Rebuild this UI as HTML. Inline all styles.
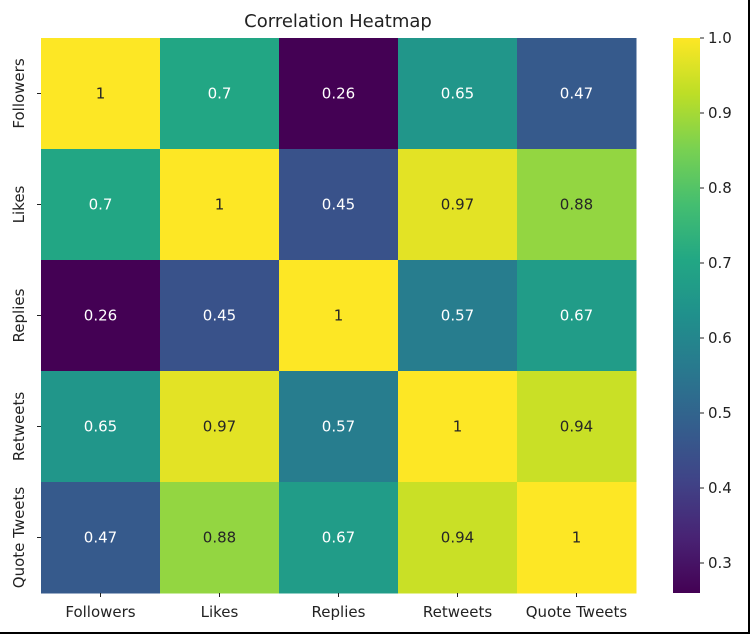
<!DOCTYPE html>
<html><head><meta charset="utf-8"><style>
body{margin:0;background:#fff;}
svg{display:block;font-family:"DejaVu Sans","Liberation Sans",sans-serif;}
</style></head><body>
<svg id="chart" width="751" height="635">
<rect x="0" y="0" width="751" height="635" fill="#fff"/>
<line x1="749" y1="0" x2="749" y2="634" stroke="#000" stroke-width="2"/>
<line x1="0" y1="633" x2="750" y2="633" stroke="#000" stroke-width="2"/>
<text x="338" y="27" text-anchor="middle" font-size="18" fill="#222">Correlation Heatmap</text>
<g id="cells"></g>
<g id="cbar"></g>
</svg>
<script>
const labels = ["Followers","Likes","Replies","Retweets","Quote Tweets"];
const row0 = [1,0.7,0.26,0.65,0.47];
const row1 = [0.7,1,0.45,0.97,0.88];
const row2 = [0.26,0.45,1,0.57,0.67];
const row3 = [0.65,0.97,0.57,1,0.94];
const row4 = [0.47,0.88,0.67,0.94,1];
const cbTicks = [0.3,0.4,0.5,0.6,0.7,0.8,0.9,1.0];
const vmin = 0.26, vmax = 1.0;
const rows = [row0,row1,row2,row3,row4];
const X0=41, Y0=38, W=595, H=555;
const cw=W/labels.length, ch=H/labels.length;
const vir=[[68,1,84],[72,35,116],[64,67,135],[52,94,141],[41,120,142],[32,144,140],[34,167,132],[68,190,112],[121,209,81],[189,222,38],[253,231,37]];
function color(v){let t=Math.max(0,Math.min(1,(v-vmin)/(vmax-vmin)))*(vir.length-1);let i=Math.min(Math.floor(t),vir.length-2),f=t-i;
const c=vir[i].map((a,k)=>Math.round(a+(vir[i+1][k]-a)*f));return `rgb(${c[0]},${c[1]},${c[2]})`;}
const NS="http://www.w3.org/2000/svg";
function mk(tag,attrs,parent){const e=document.createElementNS(NS,tag);for(const k in attrs)e.setAttribute(k,attrs[k]);parent.appendChild(e);return e;}
const g=document.getElementById('cells');
rows.forEach((r,i)=>{r.forEach((v,j)=>{
 const rc=mk('rect',{x:X0+j*cw,y:Y0+i*ch,width:cw+0.5,height:ch+0.5,fill:color(v)},g);
 
 
 const t=mk('text',{x:X0+(j+0.5)*cw,y:Y0+(i+0.5)*ch+5,'text-anchor':'middle','font-size':'15',fill:v>=0.85?'#262626':'#fff'},g);
 t.textContent=String(v);
 
 
});});
labels.forEach((l,i)=>{
 const cx=X0+(i+0.5)*cw, cy=Y0+(i+0.5)*ch;
 const tx=mk('line',{x1:cx,y1:Y0+H,x2:cx,y2:Y0+H+4,stroke:'#222'},g);
 
 
 const xl=mk('text',{x:cx,y:Y0+H+24,'text-anchor':'middle','font-size':'15',fill:'#222'},g);
 xl.textContent=l;
 
 
 const ty=mk('line',{x1:X0-4,y1:cy,x2:X0,y2:cy,stroke:'#222'},g);
 
 
 const yl=mk('text',{x:0,y:0,'text-anchor':'middle','font-size':'15',fill:'#222',transform:`translate(${X0-17},${cy}) rotate(-90)`},g);
 yl.textContent=l;
 
 
});
const cb=document.getElementById('cbar');
const CBX=673, CBW=27;
const grad=mk('linearGradient',{id:'vg',x1:0,y1:1,x2:0,y2:0},mk('defs',{},cb));
vir.forEach((c,k)=>mk('stop',{offset:k/(vir.length-1),'stop-color':`rgb(${c})`},grad));
const cbr=mk('rect',{x:CBX,y:Y0,width:CBW,height:H,fill:'url(#vg)'},cb);


cbTicks.forEach(v=>{
 const y=Y0+H-(v-vmin)/(vmax-vmin)*H;
 const l=mk('line',{x1:CBX+CBW,y1:y,x2:CBX+CBW+4,y2:y,stroke:'#222'},cb);
 
 
 const t=mk('text',{x:CBX+CBW+8,y:y+5,'font-size':'15',fill:'#222'},cb);
 t.textContent=v.toFixed(1);
 
 
});
</script>
</body></html>
